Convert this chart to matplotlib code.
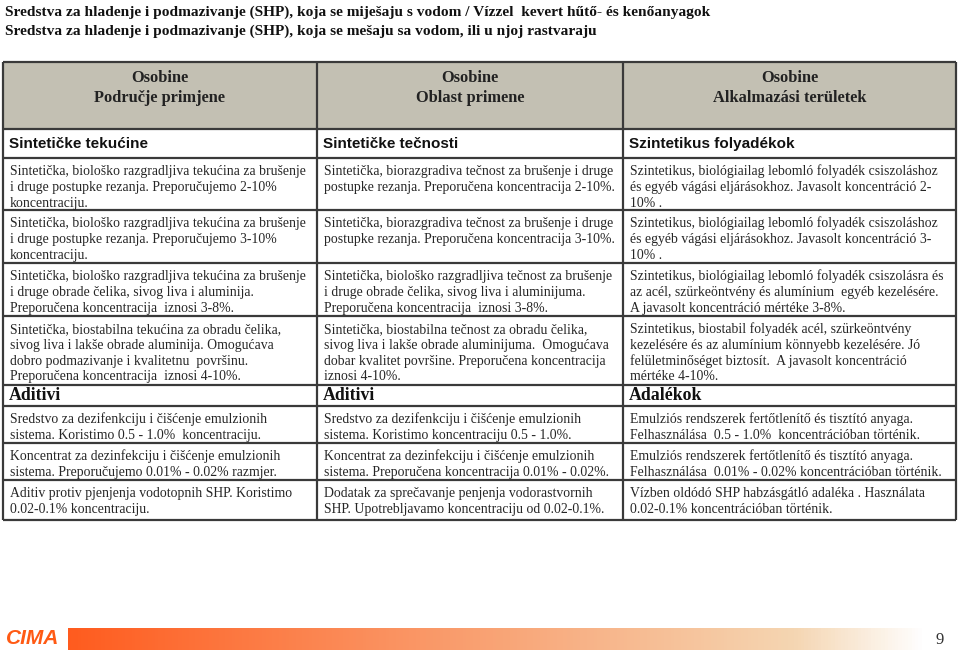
import matplotlib
matplotlib.use("Agg")
import matplotlib.pyplot as plt
import numpy as np
from matplotlib.patches import Rectangle

W, H = 960, 654
DPI = 100

title_lines = [
    "Sredstva za hladenje i podmazivanje (SHP), koja se miješaju s vodom / Vízzel  kevert hűtő- és kenőanyagok",
    "Sredstva za hladenje i podmazivanje (SHP), koja se mešaju sa vodom, ili u njoj rastvaraju",
]

col_headers = [
    ["Osobine", "Područje primjene"],
    ["Osobine", "Oblast primene"],
    ["Osobine", "Alkalmazási területek"],
]

section1 = ["Sintetičke tekućine", "Sintetičke tečnosti", "Szintetikus folyadékok"]
section2 = ["Aditivi", "Aditivi", "Adalékok"]

col1_rows = [
    ["Sintetička, biološko razgradljiva tekućina za brušenje",
     "i druge postupke rezanja. Preporučujemo 2-10%",
     "koncentraciju."],
    ["Sintetička, biološko razgradljiva tekućina za brušenje",
     "i druge postupke rezanja. Preporučujemo 3-10%",
     "koncentraciju."],
    ["Sintetička, biološko razgradljiva tekućina za brušenje",
     "i druge obrade čelika, sivog liva i aluminija.",
     "Preporučena koncentracija  iznosi 3-8%."],
    ["Sintetička, biostabilna tekućina za obradu čelika,",
     "sivog liva i lakše obrade aluminija. Omogućava",
     "dobro podmazivanje i kvalitetnu  površinu.",
     "Preporučena koncentracija  iznosi 4-10%."],
]
col2_rows = [
    ["Sintetička, biorazgradiva tečnost za brušenje i druge",
     "postupke rezanja. Preporučena koncentracija 2-10%."],
    ["Sintetička, biorazgradiva tečnost za brušenje i druge",
     "postupke rezanja. Preporučena koncentracija 3-10%."],
    ["Sintetička, biološko razgradljiva tečnost za brušenje",
     "i druge obrade čelika, sivog liva i aluminijuma.",
     "Preporučena koncentracija  iznosi 3-8%."],
    ["Sintetička, biostabilna tečnost za obradu čelika,",
     "sivog liva i lakše obrade aluminijuma.  Omogućava",
     "dobar kvalitet površine. Preporučena koncentracija",
     "iznosi 4-10%."],
]
col3_rows = [
    ["Szintetikus, biológiailag lebomló folyadék csiszoláshoz",
     "és egyéb vágási eljárásokhoz. Javasolt koncentráció 2-",
     "10% ."],
    ["Szintetikus, biológiailag lebomló folyadék csiszoláshoz",
     "és egyéb vágási eljárásokhoz. Javasolt koncentráció 3-",
     "10% ."],
    ["Szintetikus, biológiailag lebomló folyadék csiszolásra és",
     "az acél, szürkeöntvény és alumínium  egyéb kezelésére.",
     "A javasolt koncentráció mértéke 3-8%."],
    ["Szintetikus, biostabil folyadék acél, szürkeöntvény",
     "kezelésére és az alumínium könnyebb kezelésére. Jó",
     "felületminőséget biztosít.  A javasolt koncentráció",
     "mértéke 4-10%."],
]
col1_add = [
    ["Sredstvo za dezifenkciju i čišćenje emulzionih",
     "sistema. Koristimo 0.5 - 1.0%  koncentraciju."],
    ["Koncentrat za dezinfekciju i čišćenje emulzionih",
     "sistema. Preporučujemo 0.01% - 0.02% razmjer."],
    ["Aditiv protiv pjenjenja vodotopnih SHP. Koristimo",
     "0.02-0.1% koncentraciju."],
]
col2_add = [
    ["Sredstvo za dezifenkciju i čišćenje emulzionih",
     "sistema. Koristimo koncentraciju 0.5 - 1.0%."],
    ["Koncentrat za dezinfekciju i čišćenje emulzionih",
     "sistema. Preporučena koncentracija 0.01% - 0.02%."],
    ["Dodatak za sprečavanje penjenja vodorastvornih",
     "SHP. Upotrebljavamo koncentraciju od 0.02-0.1%."],
]
col3_add = [
    ["Emulziós rendszerek fertőtlenítő és tisztító anyaga.",
     "Felhasználása  0.5 - 1.0%  koncentrációban történik."],
    ["Emulziós rendszerek fertőtlenítő és tisztító anyaga.",
     "Felhasználása  0.01% - 0.02% koncentrációban történik."],
    ["Vízben oldódó SHP habzásgátló adaléka . Használata",
     "0.02-0.1% koncentrációban történik."],
]
page_number = "9"
logo_text = "CIMA"

# ---------------- layout (pixels) ----------------
col_x = [3, 317, 623, 956]
header_top, header_bot = 62, 129
sec1_bot = 158
row_bounds = [158, 210, 263, 316, 385]
sec2_bot = 406
add_bounds = [406, 443, 480, 520]
line_h = 15.8

fig = plt.figure(figsize=(W / DPI, H / DPI), dpi=DPI)
ax = fig.add_axes([0, 0, 1, 1])
ax.set_xlim(0, W)
ax.set_ylim(H, 0)
ax.axis("off")

serif = ["Liberation Serif", "DejaVu Serif"]
narrow = ["Liberation Sans Narrow", "Liberation Sans", "DejaVu Sans"]

# Title
for i, t in enumerate(title_lines):
    ax.text(5, 12 + i * 19, t, fontsize=11.1, fontweight="bold", family=serif,
            va="center", ha="left", color="#111111")

# Header fill
ax.add_patch(Rectangle((col_x[0], header_top), col_x[-1] - col_x[0],
                       header_bot - header_top, facecolor="#c3c0b3",
                       edgecolor="none", zorder=0))
for c in range(3):
    cx = (col_x[c] + col_x[c + 1]) / 2
    ax.text(cx, 78, col_headers[c][0], fontsize=11.8, fontweight="bold",
            family=serif, ha="center", va="center", color="#222222")
    ax.text(cx, 98, col_headers[c][1], fontsize=11.8, fontweight="bold",
            family=serif, ha="center", va="center", color="#222222")
    ax.text(col_x[c] + 6, 144, section1[c], fontsize=11, fontweight="bold",
            family=narrow, ha="left", va="center", color="#111111")
    ax.text(col_x[c] + 6, 396, section2[c], fontsize=12.8, fontweight="bold",
            family=serif, ha="left", va="center", color="#111111")

def draw_rows(rows, bounds, c):
    for r, lines in enumerate(rows):
        top = bounds[r]
        for i, ln in enumerate(lines):
            ax.text(col_x[c] + 7, top + 12.5 + i * line_h + 4.5, ln, fontsize=9.9,
                    family=serif, ha="left", va="baseline", color="#262626")

for c, (rows, adds) in enumerate([(col1_rows, col1_add), (col2_rows, col2_add),
                                  (col3_rows, col3_add)]):
    draw_rows(rows, row_bounds, c)
    draw_rows(adds, add_bounds, c)

# Grid lines
lc = "#3a3a3a"
lw = 1.6
hlines = [header_top, header_bot, sec1_bot] + row_bounds[1:] + [sec2_bot] + add_bounds[1:]
for y in hlines:
    ax.plot([col_x[0], col_x[-1]], [y, y], color=lc, lw=lw, solid_capstyle="butt")
for x in col_x:
    ax.plot([x, x], [header_top, add_bounds[-1]], color=lc, lw=lw, solid_capstyle="butt")

# Footer gradient bar
grad = np.linspace(0, 1, 256)
c0 = np.array([1.0, 0.36, 0.12])
c1 = np.array([0.96, 0.84, 0.70])
c2 = np.array([1.0, 1.0, 1.0])
cols = []
for g in grad:
    if g < 0.85:
        t = g / 0.85
        cols.append(c0 * (1 - t) + c1 * t)
    else:
        t = (g - 0.85) / 0.15
        cols.append(c1 * (1 - t) + c2 * t)
img = np.array(cols)[None, :, :]
ax.imshow(img, extent=[68, 925, 650, 628], aspect="auto", zorder=1)
ax.set_xlim(0, W)
ax.set_ylim(H, 0)

ax.text(6, 639, logo_text, fontsize=15, fontweight="bold", fontstyle="italic",
        family=narrow, color="#ff5a14", va="center", ha="left")
ax.text(940, 640, page_number, fontsize=12, family=serif, color="#333333",
        va="center", ha="center")

fig.savefig("out.png", dpi=DPI)
